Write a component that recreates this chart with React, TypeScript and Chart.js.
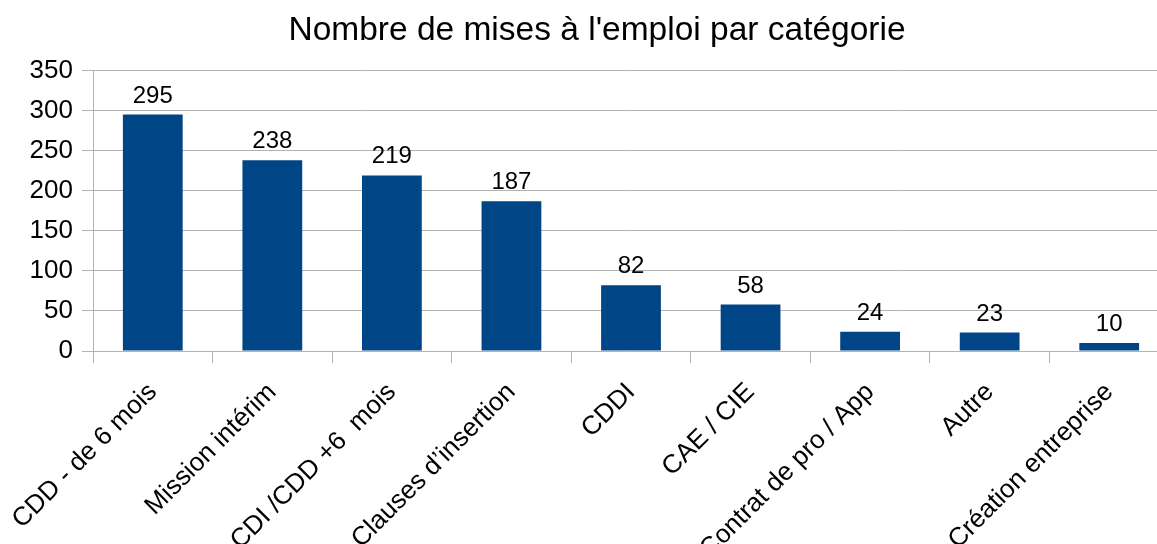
import React, { useEffect, useRef } from "react";
import { Chart, registerables } from "chart.js";

Chart.register(...registerables);

const categories = [
  "CDD - de 6 mois",
  "Mission intérim",
  "CDI /CDD +6  mois",
  "Clauses d’insertion",
  "CDDI",
  "CAE / CIE",
  "Contrat de pro / App",
  "Autre",
  "Création entreprise",
];
const values = [295, 238, 219, 187, 82, 58, 24, 23, 10];
const yTicks = [0, 50, 100, 150, 200, 250, 300, 350];
const titleText = "Nombre de mises à l'emploi par catégorie";

const FONT = "'Liberation Sans', Arial, sans-serif";

const valueLabels = {
  id: "valueLabels",
  afterDatasetsDraw(chart: any) {
    const ctx = chart.ctx;
    const meta = chart.getDatasetMeta(0);
    ctx.save();
    ctx.font = `24px ${FONT}`;
    ctx.fillStyle = "#000";
    ctx.textAlign = "center";
    ctx.textBaseline = "alphabetic";
    meta.data.forEach((el: any, i: number) => {
      ctx.fillText(String(chart.data.datasets[0].data[i]), el.x, el.y - 12);
    });
    ctx.restore();
  },
};

const titlePlugin = {
  id: "customTitle",
  afterDraw(chart: any) {
    const ctx = chart.ctx;
    ctx.save();
    ctx.font = `33.5px ${FONT}`;
    ctx.fillStyle = "#000";
    ctx.textAlign = "center";
    ctx.textBaseline = "alphabetic";
    ctx.fillText(titleText, 597, 39.5);
    ctx.restore();
  },
};

export default function App() {
  const ref = useRef<HTMLCanvasElement>(null);
  useEffect(() => {
    if (!ref.current) return;
    const chart = new Chart(ref.current, {
      type: "bar",
      data: {
        labels: categories,
        datasets: [
          {
            data: values,
            backgroundColor: "#004586",
            categoryPercentage: 1,
            barPercentage: 0.5,
          },
        ],
      },
      plugins: [valueLabels, titlePlugin],
      options: {
        responsive: false,
        animation: false,
        layout: { padding: { left: 0, right: 25, top: 70.5, bottom: 0 } },
        plugins: {
          legend: { display: false },
          tooltip: { enabled: false },
          title: { display: false },
        },
        scales: {
          x: {
            grid: {
              drawOnChartArea: false,
              drawTicks: true,
              tickLength: 12,
              color: "#b3b3b3",
              offset: true,
            },
            border: { color: "#b3b3b3" },
            ticks: {
              color: "#000",
              font: { family: FONT, size: 26 },
              minRotation: 45,
              maxRotation: 45,
              autoSkip: false,
              padding: 14,
            },
            afterFit: (s: any) => {
              s.height = 270;
              s.paddingLeft = 0;
              s.paddingRight = 0;
            },
          },
          y: {
            min: 0,
            max: 350,
            afterBuildTicks: (s: any) => {
              s.ticks = yTicks.map((v) => ({ value: v }));
            },
            grid: { color: "#b3b3b3", tickLength: 11 },
            border: { color: "#b3b3b3" },
            ticks: {
              color: "#000",
              font: { family: FONT, size: 26 },
              padding: 9,
            },
            afterFit: (s: any) => {
              s.width = 93;
              s.paddingTop = 0;
              s.paddingBottom = 0;
            },
          },
        },
      },
    });
    return () => chart.destroy();
  }, []);
  return (
    <div style={{ position: "absolute", left: 0, top: 0, width: 1157, height: 544, overflow: "hidden", background: "#fff" }}>
      <canvas ref={ref} width={1194} height={621} style={{ display: "block" }} />
    </div>
  );
}
